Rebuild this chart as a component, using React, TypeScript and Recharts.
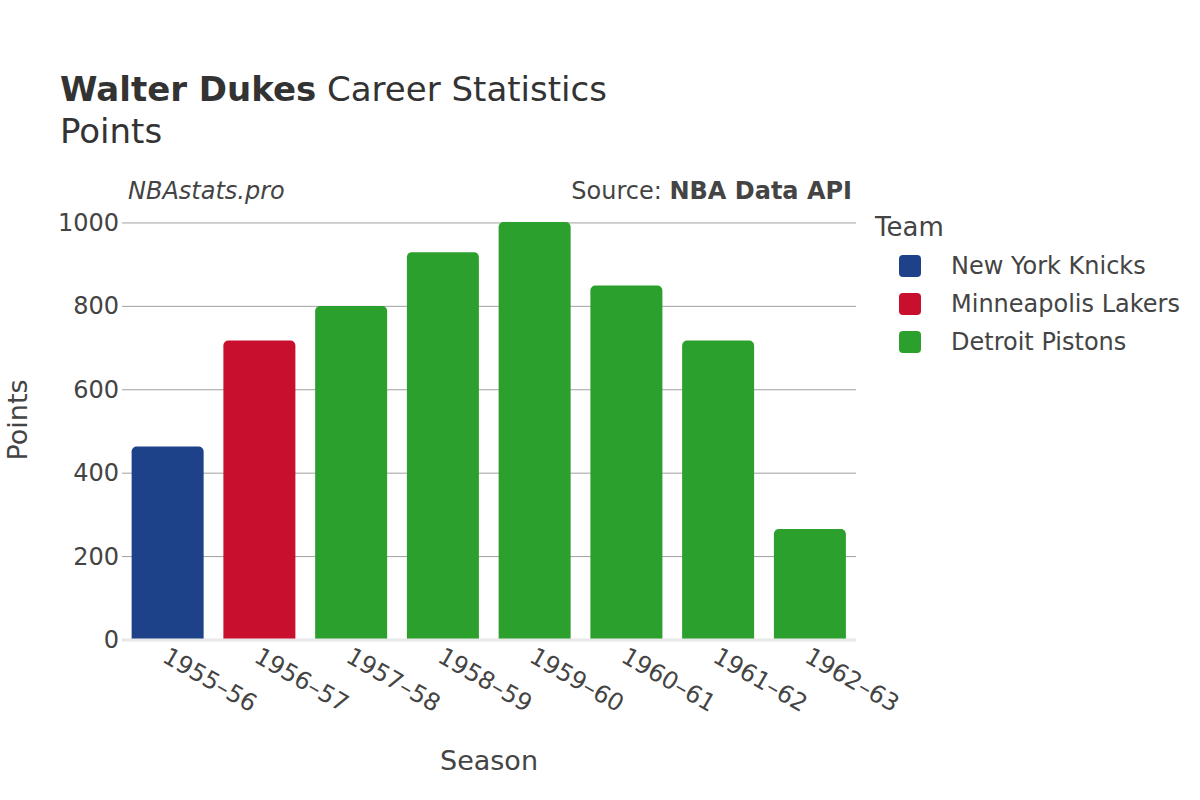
import React from 'react';
import { BarChart, Bar, Cell, XAxis, YAxis, CartesianGrid, ReferenceLine } from 'recharts';

const SEASONS = ['1955–56', '1956–57', '1957–58', '1958–59', '1959–60', '1960–61', '1961–62', '1962–63'];
const POINTS = [464, 718, 801, 930, 1002, 850, 718, 266];
const SEASON_TEAMS = [
  'New York Knicks',
  'Minneapolis Lakers',
  'Detroit Pistons',
  'Detroit Pistons',
  'Detroit Pistons',
  'Detroit Pistons',
  'Detroit Pistons',
  'Detroit Pistons',
];
const TEAMS = ['New York Knicks', 'Minneapolis Lakers', 'Detroit Pistons'];
const TEAM_COLORS = ['#1D428A', '#C8102E', '#2CA02C'];
const Y_TICKS = [0, 200, 400, 600, 800, 1000];

const FONT = '"DejaVu Sans", Verdana, sans-serif';
const TEXT = '#444';

const colorFor = (team: string) => TEAM_COLORS[TEAMS.indexOf(team)];

const XTick = ({ x, y, payload }: any) => (
  <text
    x={0}
    y={0}
    transform={`translate(${x - 3}, ${y + 14}) rotate(30)`}
    textAnchor="start"
    dominantBaseline="central"
    fontSize={24}
    fill={TEXT}
    fontFamily={FONT}
  >
    {payload.value}
  </text>
);

const YTick = ({ x, y, payload }: any) => (
  <text x={x} y={y} textAnchor="end" dominantBaseline="central" fontSize={24} fill={TEXT} fontFamily={FONT}>
    {payload.value}
  </text>
);

export default function App() {
  const data = SEASONS.map((season, i) => ({
    season,
    points: POINTS[i],
    team: SEASON_TEAMS[i],
  }));

  return (
    <div style={{ position: 'absolute', left: 0, top: 0, width: 1200, height: 800, background: '#fff', fontFamily: FONT }}>
      <BarChart
        width={1200}
        height={800}
        data={data}
        margin={{ top: 200, right: 344, bottom: 130, left: 60 }}
        barCategoryGap="10.5%"
      >
        <CartesianGrid horizontal vertical={false} stroke="#a0a0a0" strokeWidth={1} horizontalValues={Y_TICKS} />
        <XAxis
          dataKey="season"
          height={30}
          tick={<XTick />}
          tickLine={false}
          axisLine={false}
          interval={0}
          tickSize={0}
          tickMargin={0}
        />
        <YAxis
          width={62}
          domain={[0, 1055]}
          ticks={Y_TICKS}
          tick={<YTick />}
          tickLine={false}
          axisLine={false}
          tickSize={0}
          tickMargin={3}
        />
        <ReferenceLine y={0} stroke="#e8e8e8" strokeWidth={3} />
        <Bar dataKey="points" radius={[5, 5, 0, 0]} isAnimationActive={false}>
          {data.map((d, i) => (
            <Cell key={`cell-${i}`} fill={colorFor(d.team)} />
          ))}
        </Bar>
      </BarChart>

      <svg
        width={1200}
        height={800}
        style={{ position: 'absolute', left: 0, top: 0, pointerEvents: 'none', fontFamily: FONT }}
      >
        <text x={60} y={101} fontSize={34} fill="#333">
          <tspan fontWeight="bold">Walter Dukes</tspan>
          <tspan> Career Statistics</tspan>
        </text>
        <text x={60} y={143} fontSize={34} fill="#333">
          Points
        </text>
        <text x={128} y={199} fontSize={24} fontStyle="italic" fill={TEXT}>
          NBAstats.pro
        </text>
        <text x={852} y={199} fontSize={24} textAnchor="end" fill={TEXT}>
          Source: <tspan fontWeight="bold">NBA Data API</tspan>
        </text>
        <text x={489} y={770} fontSize={27} textAnchor="middle" fill={TEXT}>
          Season
        </text>
        <text
          x={0}
          y={0}
          transform="translate(27, 420) rotate(-90)"
          fontSize={27}
          textAnchor="middle"
          fill={TEXT}
        >
          Points
        </text>

        <text x={875} y={236} fontSize={26} fill={TEXT}>
          Team
        </text>
        {TEAMS.map((team, i) => (
          <g key={team}>
            <rect x={899} y={255 + i * 38} width={22} height={22} rx={4} fill={TEAM_COLORS[i]} />
            <text x={951} y={266 + i * 38} dominantBaseline="central" fontSize={24} fill={TEXT}>
              {team}
            </text>
          </g>
        ))}
      </svg>
    </div>
  );
}
